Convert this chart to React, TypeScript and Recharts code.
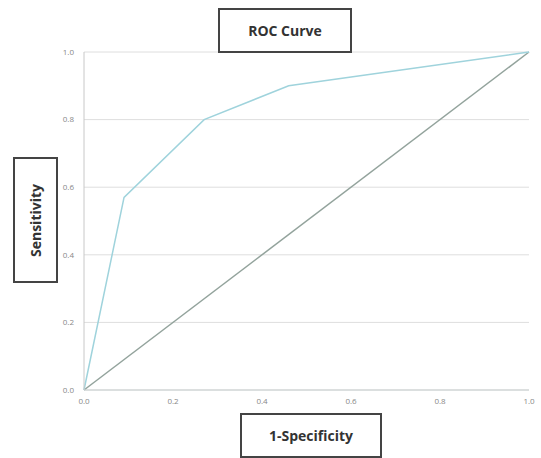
import React from "react";
import { ComposedChart, Line, XAxis, YAxis, CartesianGrid } from "recharts";

const rocFpr = [0, 0.09, 0.27, 0.46, 1.0];
const rocTpr = [0, 0.57, 0.8, 0.9, 1.0];
const diagX = [0, 1];
const diagY = [0, 1];
const ticks = [0, 0.2, 0.4, 0.6, 0.8, 1.0];

const rocData = rocFpr.map((x, i) => ({ x, y: rocTpr[i] }));
const diagData = diagX.map((x, i) => ({ x, y: diagY[i] }));

const boxStyle: React.CSSProperties = {
  position: "absolute",
  border: "2px solid #444",
  boxSizing: "border-box",
  display: "flex",
  alignItems: "center",
  justifyContent: "center",
  fontFamily: "'Open Sans', sans-serif",
  fontWeight: 700,
  fontSize: 14,
  color: "#333",
  background: "#fff",
};

export default function App() {
  return (
    <div style={{ position: "absolute", left: 0, top: 0, width: 541, height: 458, background: "#fff" }}>
      <ComposedChart
        width={541}
        height={458}
        margin={{ top: 52, right: 12, bottom: 48, left: 54 }}
      >
        <CartesianGrid horizontal={true} vertical={false} stroke="#dedede" />
        <XAxis
          type="number"
          dataKey="x"
          domain={[0, 1]}
          ticks={ticks}
          tickFormatter={(v: number) => v.toFixed(1)}
          tick={{ fontSize: 8, fill: "#888", fontFamily: "'Open Sans', sans-serif" }}
          tickLine={false}
          axisLine={{ stroke: "#c8cfcf" }}
          height={20}
          tickMargin={2}
        />
        <YAxis
          type="number"
          domain={[0, 1]}
          ticks={ticks}
          tickFormatter={(v: number) => v.toFixed(1)}
          tick={{ fontSize: 8, fill: "#888", fontFamily: "'Open Sans', sans-serif" }}
          tickLine={false}
          axisLine={{ stroke: "#c8c8c8" }}
          width={30}
          tickMargin={4}
        />
        <Line
          data={diagData}
          dataKey="y"
          type="linear"
          stroke="#93a39c"
          strokeWidth={1.5}
          dot={false}
          isAnimationActive={false}
        />
        <Line
          data={rocData}
          dataKey="y"
          type="linear"
          stroke="#9fd3dc"
          strokeWidth={1.5}
          dot={false}
          isAnimationActive={false}
        />
      </ComposedChart>
      <div style={{ ...boxStyle, left: 218, top: 8, width: 134, height: 45 }}>ROC Curve</div>
      <div style={{ ...boxStyle, left: 240, top: 413, width: 142, height: 45 }}>1-Specificity</div>
      <div style={{ ...boxStyle, left: 13, top: 157, width: 45, height: 126 }}>
        <span style={{ transform: "rotate(-90deg)", whiteSpace: "nowrap" }}>Sensitivity</span>
      </div>
    </div>
  );
}
